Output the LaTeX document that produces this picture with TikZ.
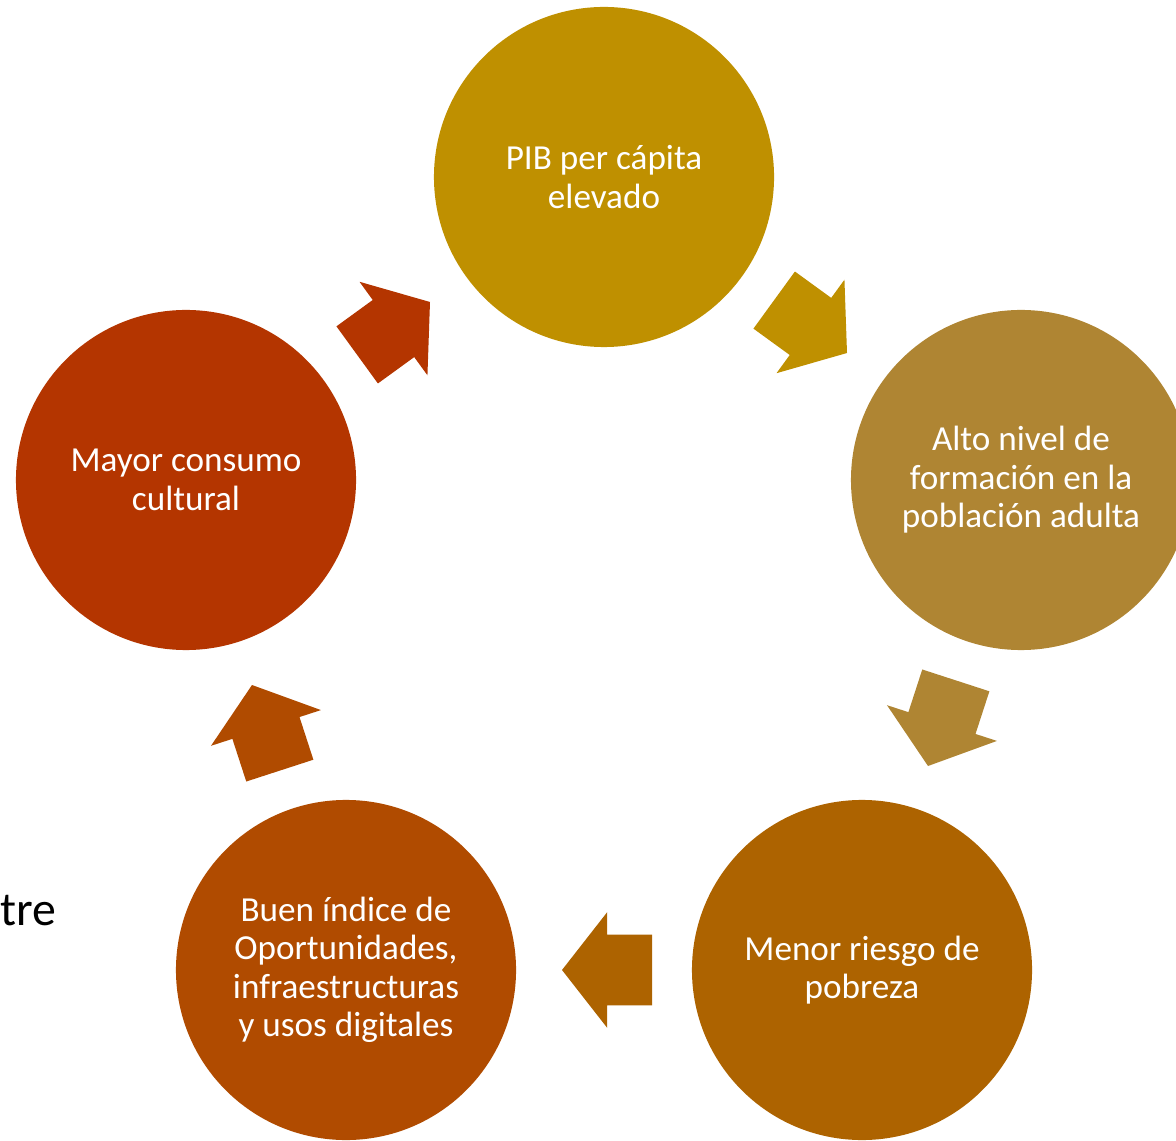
\documentclass[tikz,border=0pt]{standalone}
\usepackage{fontspec}
\setmainfont{Carlito}
\usetikzlibrary{shapes.arrows}
\definecolor{pibcol}{HTML}{BF9000}
\definecolor{formcol}{HTML}{AF8533}
\definecolor{pobcol}{HTML}{AD6300}
\definecolor{digcol}{HTML}{B04B00}
\definecolor{conscol}{HTML}{B43500}
\begin{document}
\begin{tikzpicture}[x=0.025cm,y=0.025cm,
  stage/.style={circle,draw=none,minimum size=8.5cm,inner sep=0pt,text=white,align=center,font=\fontsize{25}{27.3}\selectfont},
  cyclearrow/.style={single arrow,draw=none,inner xsep=0pt,inner ysep=0.875cm,minimum height=2.25cm,single arrow head extend=0.5625cm,single arrow tip angle=104,outer sep=0pt,anchor=tip}]
\clip (0,0) rectangle (1176,1140);
\node[stage,fill=pibcol] (pib) at (604,963) {PIB per cápita\\elevado};
\node[stage,fill=formcol] (formacion) at (1021,660) {Alto nivel de\\formación en la\\población adulta};
\node[stage,fill=pobcol] (pobreza) at (862,170) {Menor riesgo de\\pobreza};
\node[stage,fill=digcol] (digital) at (346,170) {Buen índice de\\Oportunidades,\\infraestructuras\\y usos digitales};
\node[stage,fill=conscol] (consumo) at (186,660) {Mayor consumo\\cultural};
\node[cyclearrow,fill=pibcol,rotate=-36] (pib-formacion) at (847,787) {};
\node[cyclearrow,fill=formcol,rotate=-108] (formacion-pobreza) at (928,374) {};
\node[cyclearrow,fill=pobcol,rotate=180] (pobreza-digital) at (562,170) {};
\node[cyclearrow,fill=digcol,rotate=108] (digital-consumo) at (252,455) {};
\node[cyclearrow,fill=conscol,rotate=36] (consumo-pib) at (430,838) {};
\node[font=\fontsize{34}{40}\selectfont,text=black,anchor=base west,inner sep=0pt] (tre) at (0,215) {tre};
\end{tikzpicture}
\end{document}
